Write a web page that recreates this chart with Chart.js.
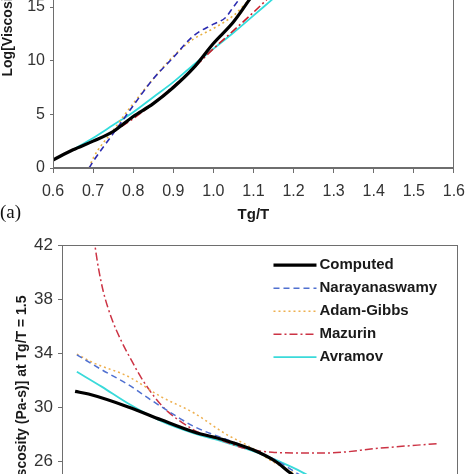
<!DOCTYPE html>
<html>
<head>
<meta charset="utf-8">
<script src="https://cdn.jsdelivr.net/npm/chart.js@4.4.1/dist/chart.umd.min.js"></script>
<style>
    html, body { margin: 0; padding: 0; width: 474px; height: 474px; overflow: hidden; background: #fff; }
    #wrapTop { position: absolute; left: 0; top: -170px; width: 474px; height: 400px; }
    #wrapBottom { position: absolute; left: 0; top: 230px; width: 474px; height: 400px; }
</style>
</head>
<body>
<div id="wrapTop"><canvas id="chartTop" width="474" height="400"></canvas></div>
<div id="wrapBottom"><canvas id="chartBottom" width="474" height="400"></canvas></div>
<script>
// ===== DỮ LIỆU =====
const seriesNames = ['Computed', 'Narayanaswamy', 'Adam-Gibbs', 'Mazurin', 'Avramov'];

// (a) Log[Viscosity] theo Tg/T
const topXTicks = [0.6, 0.7, 0.8, 0.9, 1.0, 1.1, 1.2, 1.3, 1.4, 1.5, 1.6];
const topYTicks = [0, 5, 10, 15, 20, 25, 30];

const computedTgT   = [0.6, 0.65, 0.7, 0.75, 0.8, 0.85, 0.9, 0.95, 1.0, 1.05, 1.1, 1.15];
const computedLog   = [0.75, 1.7, 2.5, 3.4, 4.8, 6.0, 7.5, 9.3, 11.6, 13.6, 16.2, 18.5];
const narayTgT      = [0.69, 0.7, 0.75, 0.8, 0.85, 0.9, 0.95, 1.0, 1.03, 1.05, 1.08];
const narayLog      = [0, 0.6, 3.2, 5.8, 8.3, 10.3, 12.3, 13.4, 14.0, 15.0, 16.5];
const adamTgT       = [0.69, 0.7, 0.75, 0.8, 0.85, 0.9, 0.95, 1.0, 1.05, 1.1];
const adamLog       = [0, 0.9, 3.5, 6.0, 8.3, 10.4, 12.0, 13.0, 14.2, 16.1];
const mazurinTgT    = [0.7, 0.75, 0.8, 0.85, 0.9, 0.95, 1.0, 1.05, 1.1, 1.15];
const mazurinLog    = [2.5, 3.4, 4.6, 6.0, 7.6, 9.3, 11.1, 12.8, 14.5, 16.3];
const avramovTgT    = [0.65, 0.7, 0.75, 0.8, 0.85, 0.9, 0.95, 1.0, 1.05, 1.1, 1.15];
const avramovLog    = [1.7, 2.8, 4.0, 5.2, 6.6, 8.0, 9.6, 11.1, 12.6, 14.2, 15.8];

// (b) Log[Viscosity] tại Tg/T = 1.5
const bottomYTicks = [18, 22, 26, 30, 34, 38, 42];

const computedB   = [3.3, 6.7, 16.7, 25, 33.3, 41, 48, 54, 57, 62, 67];
const computedBV  = [31.2, 31.0, 30.05, 29.1, 28.2, 27.6, 26.9, 26.0, 25.3, 24.2, 23.0];
const narayB      = [3.75, 10, 16.7, 22.5, 29.2, 33.3, 41, 48, 54, 59, 64];
const narayBV     = [33.9, 32.8, 31.7, 30.55, 29.3, 28.6, 27.7, 26.9, 26.1, 25.2, 24.3];
const adamB       = [3.75, 8, 16.7, 25, 33.3, 41, 48, 52, 57, 62];
const adamBV      = [33.95, 33.3, 32.3, 30.8, 29.6, 28.1, 27.0, 26.2, 25.4, 24.5];
const mazurinB    = [7.5, 8.3, 9.2, 10.4, 12.5, 15, 17.5, 20, 23.3, 26.7, 30.8, 34.2, 41, 46, 53, 59, 67, 80, 95];
const mazurinBV   = [43.8, 42.0, 40.3, 38.6, 36.6, 34.9, 33.5, 32.2, 30.8, 29.7, 28.8, 28.2, 27.5, 27.0, 26.7, 26.65, 26.65, 27.0, 27.35];
const avramovB    = [3.75, 10, 16.7, 25, 33.3, 41, 49.5, 58, 62, 67];
const avramovBV   = [32.65, 31.55, 30.3, 29.0, 28.1, 27.45, 26.65, 25.6, 25.0, 24.2];

// ===== CẤU HÌNH CHUNG =====
const FONT = "'Liberation Sans', Arial, sans-serif";
const AXIS_COLOR = '#6e6e6e';

function pts(xs, ys) {
    return xs.map((x, i) => ({ x: x, y: ys[i] }));
}

function lineDs(label, data, color, width, dash) {
    return {
        label: label,
        data: data,
        borderColor: color,
        borderWidth: width,
        borderDash: dash,
        pointRadius: 0,
        fill: false,
        cubicInterpolationMode: 'monotone'
    };
}

function fixedTicks(list) {
    return function(scale) { scale.ticks = list.map(v => ({ value: v })); };
}

// Khung viền quanh vùng vẽ
const framePlugin = {
    id: 'frame',
    afterDraw(chart) {
        const a = chart.chartArea;
        const ctx = chart.ctx;
        ctx.save();
        ctx.strokeStyle = AXIS_COLOR;
        ctx.lineWidth = 1;
        ctx.strokeRect(Math.round(a.left) + 0.5, Math.round(a.top) + 0.5,
                       Math.round(a.right - a.left) - 1, Math.round(a.bottom - a.top) - 1);
        ctx.restore();
    }
};

// Nhãn "(a)"
const panelLabelPlugin = {
    id: 'panelLabel',
    afterDraw(chart) {
        const ctx = chart.ctx;
        ctx.save();
        ctx.fillStyle = '#111';
        ctx.font = "19px 'Liberation Serif', 'Times New Roman', serif";
        ctx.textBaseline = 'middle';
        ctx.textAlign = 'left';
        ctx.fillText('(a)', 0, chart.chartArea.bottom + 45);
        ctx.restore();
    }
};

// Chú thích nằm trong vùng vẽ (biểu đồ dưới)
const insideLegendPlugin = {
    id: 'insideLegend',
    afterDraw(chart) {
        const a = chart.chartArea;
        const ctx = chart.ctx;
        const x0 = a.right - 185, x1 = a.right - 142, tx = a.right - 139;
        ctx.save();
        ctx.font = 'bold 15px ' + FONT;
        ctx.textBaseline = 'middle';
        ctx.textAlign = 'left';
        chart.data.datasets.forEach((ds, i) => {
            const y = a.top + 20 + i * 23;
            ctx.strokeStyle = ds.borderColor;
            ctx.lineWidth = ds.borderWidth;
            ctx.setLineDash(ds.borderDash || []);
            ctx.beginPath();
            ctx.moveTo(x0, y);
            ctx.lineTo(x1, y);
            ctx.stroke();
            ctx.setLineDash([]);
            ctx.fillStyle = '#1a1a1a';
            ctx.fillText(ds.label, tx, y);
        });
        ctx.restore();
    }
};

// ===== BIỂU ĐỒ TRÊN (a) =====
new Chart(document.getElementById('chartTop'), {
    type: 'line',
    data: {
        datasets: [
            lineDs(seriesNames[0], pts(computedTgT, computedLog), '#000000', 3.2, []),
            lineDs(seriesNames[1], pts(narayTgT, narayLog), '#2b2bb0', 1.6, [6, 4]),
            lineDs(seriesNames[2], pts(adamTgT, adamLog), '#e8b040', 1.6, [2, 3]),
            lineDs(seriesNames[3], pts(mazurinTgT, mazurinLog), '#c81e2a', 1.6, [8, 3, 2, 3]),
            lineDs(seriesNames[4], pts(avramovTgT, avramovLog), '#33dcdc', 1.8, [])
        ]
    },
    options: {
        responsive: false,
        animation: false,
        layout: { padding: { top: 16, right: 11, bottom: 0, left: 0 } },
        plugins: { legend: { display: false }, tooltip: { enabled: false } },
        scales: {
            x: {
                type: 'linear', min: 0.6, max: 1.6,
                afterBuildTicks: fixedTicks(topXTicks),
                afterFit: s => { s.height = 62; },
                grid: { drawOnChartArea: false, drawTicks: true, tickLength: 5, color: AXIS_COLOR },
                border: { color: AXIS_COLOR },
                ticks: {
                    padding: 9, color: '#333', autoSkip: false, maxRotation: 0,
                    font: { family: FONT, size: 16 },
                    callback: v => Number(v).toFixed(1)
                },
                title: {
                    display: true, text: 'Tg/T', color: '#1a1a1a',
                    font: { family: FONT, size: 15, weight: 'bold' },
                    padding: { top: 0, bottom: 6 }
                }
            },
            y: {
                type: 'linear', min: 0, max: 30,
                afterBuildTicks: fixedTicks(topYTicks),
                afterFit: s => { s.width = 53; },
                grid: { drawOnChartArea: false, drawTicks: true, tickLength: 3, color: AXIS_COLOR },
                border: { color: AXIS_COLOR },
                ticks: { padding: 5, color: '#333', font: { family: FONT, size: 16 } },
                title: {
                    display: true, text: 'Log[Viscosity (Pa-s)]', color: '#1a1a1a',
                    font: { family: FONT, size: 14, weight: 'bold' },
                    padding: { top: 0, bottom: 0 }
                }
            }
        }
    },
    plugins: [framePlugin, panelLabelPlugin]
});

// ===== BIỂU ĐỒ DƯỚI =====
new Chart(document.getElementById('chartBottom'), {
    type: 'line',
    data: {
        datasets: [
            lineDs(seriesNames[0], pts(computedB, computedBV), '#000000', 3.2, []),
            lineDs(seriesNames[1], pts(narayB, narayBV), '#5070d0', 1.5, [6, 4]),
            lineDs(seriesNames[2], pts(adamB, adamBV), '#eeb050', 1.5, [2, 3]),
            lineDs(seriesNames[3], pts(mazurinB, mazurinBV), '#cc3344', 1.5, [8, 3, 2, 3]),
            lineDs(seriesNames[4], pts(avramovB, avramovBV), '#3adada', 1.8, [])
        ]
    },
    options: {
        responsive: false,
        animation: false,
        layout: { padding: { top: 15, right: 12, bottom: 0, left: 10 } },
        plugins: { legend: { display: false }, tooltip: { enabled: false } },
        scales: {
            x: {
                type: 'linear', min: 0, max: 100,
                afterFit: s => { s.height = 60; },
                grid: { drawOnChartArea: false, drawTicks: true, tickLength: 5, color: AXIS_COLOR },
                border: { color: AXIS_COLOR },
                ticks: { color: '#333', font: { family: FONT, size: 15 } }
            },
            y: {
                type: 'linear', min: 18, max: 42,
                afterBuildTicks: fixedTicks(bottomYTicks),
                afterFit: s => { s.width = 52; },
                grid: { drawOnChartArea: false, drawTicks: true, tickLength: 4, color: AXIS_COLOR },
                border: { color: AXIS_COLOR },
                ticks: { padding: 5, color: '#333', font: { family: FONT, size: 17 } },
                title: {
                    display: true, text: 'Log[Viscosity (Pa-s)] at Tg/T = 1.5', color: '#1a1a1a',
                    font: { family: FONT, size: 14, weight: 'bold' },
                    padding: { top: 4, bottom: 0 }
                }
            }
        }
    },
    plugins: [framePlugin, insideLegendPlugin]
});
</script>
</body>
</html>
